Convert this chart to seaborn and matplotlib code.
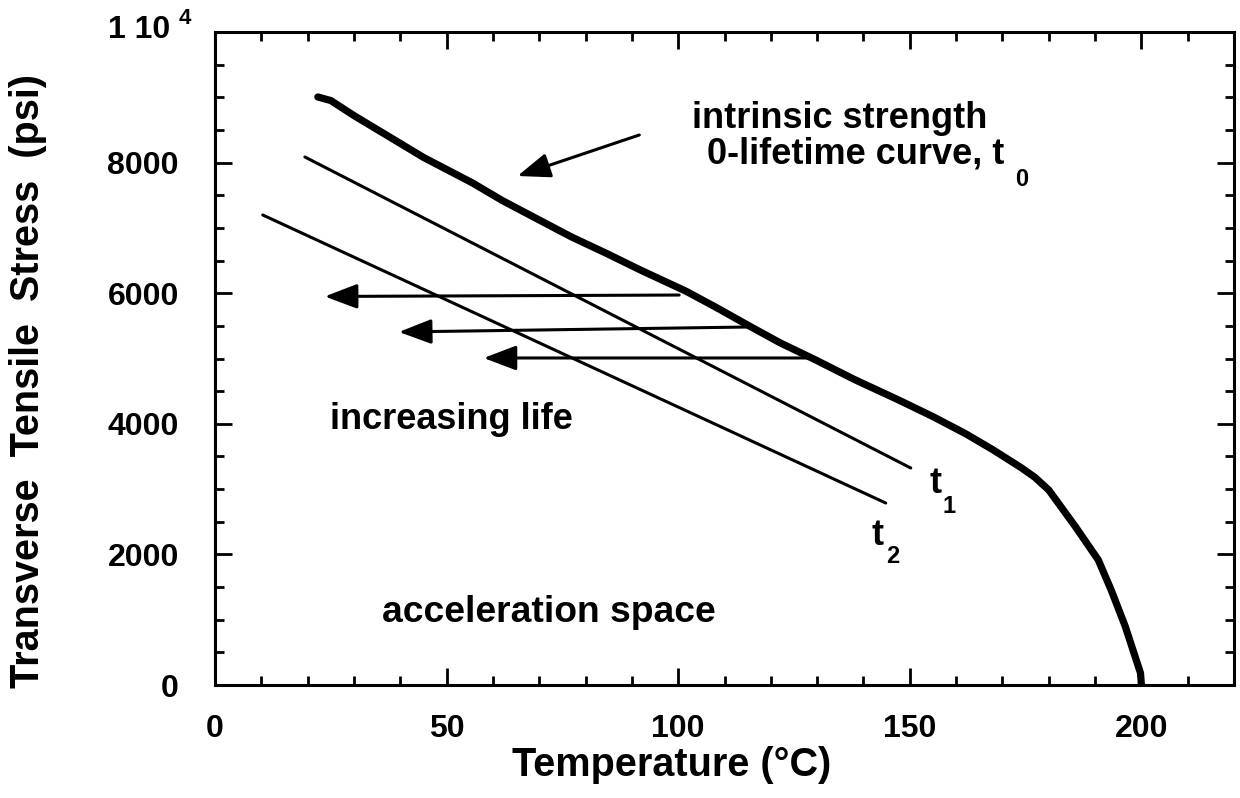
import numpy as np
import pandas as pd
import matplotlib
matplotlib.use("Agg")
import matplotlib.pyplot as plt
from matplotlib.ticker import FixedLocator, MultipleLocator, FuncFormatter
import seaborn as sns

# Intrinsic strength (0-lifetime) curve
curve_temp = [22.2, 25, 30, 37.7, 45, 55.6, 62, 70, 77, 84.5, 92, 101.7, 108, 115.3,
              122, 129.7, 138, 147.6, 155, 162, 168, 174, 177, 180, 185.8, 190.7,
              193.5, 196.5, 199.8, 200]
curve_stress = [9005, 8950, 8720, 8392, 8080, 7688, 7420, 7121, 6860, 6610, 6350, 6030,
                5790, 5500, 5240, 4977, 4680, 4364, 4110, 3850, 3600, 3330, 3180, 2986,
                2420, 1914, 1450, 900, 184, 0]

# Finite lifetime lines t1 and t2 (end points)
t1_temp = [19.4, 150.2]
t1_stress = [8086, 3323]
t2_temp = [10.3, 144.8]
t2_stress = [7198, 2787]

# Horizontal "increasing life" arrows: (tail x, tail y, head x, head y)
life_arrows = [
    (100.2, 5972, 23.7, 5950),
    (114.7, 5482, 39.7, 5406),
    (127.6, 5008, 58.0, 5008),
]
# Arrow pointing at the intrinsic strength curve
curve_arrow = (91.6, 8423, 65.3, 7795)

y_ticks = [0, 2000, 4000, 6000, 8000, 10000]

sns.set_theme(style="ticks")
plt.rcParams['font.family'] = ['Liberation Sans', 'DejaVu Sans']
plt.rcParams['font.weight'] = 'bold'
plt.rcParams['text.color'] = 'black'
plt.rcParams['axes.labelcolor'] = 'black'
plt.rcParams['xtick.color'] = 'black'
plt.rcParams['ytick.color'] = 'black'

fig = plt.figure(figsize=(12.4, 7.98), dpi=100)
ax = fig.add_axes([0.1734, 0.1416, 0.8218, 0.8183])

sns.lineplot(x=curve_temp, y=curve_stress, color='black', lw=5.2,
             estimator=None, sort=False, ax=ax)
sns.lineplot(x=t1_temp, y=t1_stress, color='black', lw=2.2, estimator=None, ax=ax)
sns.lineplot(x=t2_temp, y=t2_stress, color='black', lw=2.2, estimator=None, ax=ax)

arrow_style = dict(arrowstyle='-|>,head_length=1.0,head_width=0.38', color='black',
                   lw=2.2, mutation_scale=20, shrinkA=0, shrinkB=0)
for x0, y0, x1, y1 in life_arrows:
    ax.annotate('', xy=(x1, y1), xytext=(x0, y0), arrowprops=arrow_style)
ax.annotate('', xy=curve_arrow[2:], xytext=curve_arrow[:2], arrowprops=arrow_style)

# Text annotations
txt = dict(fontsize=26, fontweight='bold', color='black')
sub = dict(fontsize=17, fontweight='bold', color='black')
ax.text(103.0, 8530, 'intrinsic strength', ha='left', va='baseline', **txt)
ax.text(106.3, 7990, '0-lifetime curve, t', ha='left', va='baseline', **txt)
ax.text(172.7, 7640, '0', ha='left', va='baseline', **sub)
ax.text(24.8, 3920, 'increasing life', ha='left', va='baseline', **txt)
ax.text(36.0, 965, 'acceleration space', ha='left', va='baseline',
        fontsize=26.8, fontweight='bold', color='black')
ax.text(154.3, 2940, 't', ha='left', va='baseline', **txt)
ax.text(157.0, 2634, '1', ha='left', va='baseline', **sub)
ax.text(141.8, 2144, 't', ha='left', va='baseline', **txt)
ax.text(144.8, 1868, '2', ha='left', va='baseline', **sub)

# Axes, ticks, labels
ax.set_xlim(0, 220)
ax.set_ylim(0, 10000)
ax.xaxis.set_major_locator(MultipleLocator(50))
ax.xaxis.set_minor_locator(MultipleLocator(10))
ax.yaxis.set_major_locator(FixedLocator(y_ticks))
ax.yaxis.set_minor_locator(MultipleLocator(500))
ax.yaxis.set_major_formatter(FuncFormatter(
    lambda v, pos: '' if v == 10000 else f'{int(v)}'))

# the 1 10^4 label at the top of the y axis
fig.text(108 / 1240, 1 - 38 / 798, '1 10', fontsize=23, fontweight='bold',
         ha='left', va='baseline')
fig.text(179 / 1240, 1 - 24 / 798, '4', fontsize=16, fontweight='bold',
         ha='left', va='baseline')

ax.tick_params(which='both', direction='in', top=True, right=True, width=2,
               color='black')
ax.tick_params(which='major', length=12)
ax.tick_params(which='minor', length=6.5)
ax.tick_params(axis='y', which='major', pad=26, labelsize=23)
ax.tick_params(axis='x', which='major', pad=21, labelsize=23)
for lab in ax.get_xticklabels() + ax.get_yticklabels():
    lab.set_fontweight('bold')

for side in ['left', 'right', 'top', 'bottom']:
    ax.spines[side].set_linewidth(2.2)
    ax.spines[side].set_color('black')

ax.set_xlabel('Temperature (\u00b0C)', fontsize=28.5, fontweight='bold')
ax.set_ylabel('Transverse  Tensile  Stress  (psi)', fontsize=28.5, fontweight='bold')
ax.xaxis.set_label_coords(0.4485, -0.1225)
ax.yaxis.set_label_coords(-0.1835, 0.4655)
ax.xaxis.label.set_va('center')
ax.yaxis.label.set_va('center')

fig.savefig('out.png', dpi=100, facecolor='white')
